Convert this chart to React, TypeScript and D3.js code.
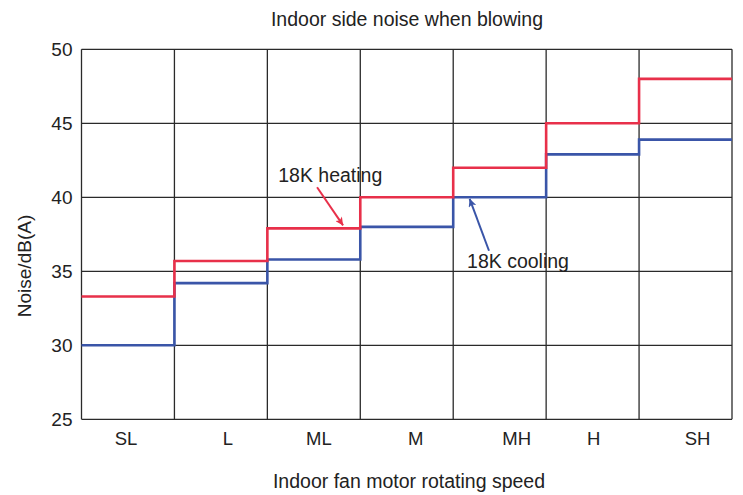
import * as d3 from 'd3';
import React, { useRef, useEffect } from 'react';

const categories = ['SL', 'L', 'ML', 'M', 'MH', 'H', 'SH'];
const heating = [33.3, 35.7, 37.9, 40.0, 42.0, 45.0, 48.0];
const cooling = [30.0, 34.2, 35.8, 38.0, 40.0, 42.9, 43.9];
const yTicks = [25, 30, 35, 40, 45, 50];

// annotations, in (category index, dB) units
const notes = [
  { label: '18K heating', color: '#e8304a', text: [2.117, 41.02], from: [2.535, 40.68], to: [2.815, 38.1] },
  { label: '18K cooling', color: '#3a55a8', text: [4.149, 35.2], from: [4.385, 36.39], to: [4.177, 39.9] },
];

// small horizontal nudges for the category labels, as placed in the original
const labelNudge = [-2, 7, 5, 9, 17, 1, 12];

const W = 743;
const H = 495;
const margin = { top: 49.3, right: 11, bottom: 75.7, left: 81.5 };
const font = '"Liberation Sans", Arial, Helvetica, sans-serif';
const textColor = '#222';

function StepChart() {
  const ref = useRef<SVGSVGElement>(null);

  useEffect(() => {
    const svg = d3.select(ref.current);
    svg.selectAll('*').remove();

    const x0 = margin.left;
    const x1 = W - margin.right;
    const y0 = H - margin.bottom;
    const y1 = margin.top;

    const x = d3.scaleBand().domain(categories).range([x0, x1]);
    const xi = d3.scaleLinear().domain([0, categories.length]).range([x0, x1]);
    const y = d3.scaleLinear().domain([25, 50]).range([y0, y1]);

    // grid
    const grid = svg.append('g');
    grid
      .selectAll('line.h')
      .data(yTicks)
      .enter()
      .append('line')
      .attr('x1', x0)
      .attr('x2', x1)
      .attr('y1', (d) => y(d))
      .attr('y2', (d) => y(d))
      .attr('stroke', '#2a2a2a')
      .attr('stroke-width', 1.3);

    grid
      .selectAll('line.v')
      .data(d3.range(categories.length + 1))
      .enter()
      .append('line')
      .attr('x1', (d) => xi(d))
      .attr('x2', (d) => xi(d))
      .attr('y1', y0)
      .attr('y2', y1)
      .attr('stroke', '#2a2a2a')
      .attr('stroke-width', 1.3);

    // y tick labels
    svg
      .append('g')
      .selectAll('text')
      .data(yTicks)
      .enter()
      .append('text')
      .attr('x', x0 - 9)
      .attr('y', (d) => y(d))
      .attr('dy', '0.36em')
      .attr('text-anchor', 'end')
      .style('font-family', font)
      .style('font-size', '19px')
      .style('fill', textColor)
      .text((d) => d);

    // category labels
    svg
      .append('g')
      .selectAll('text')
      .data(categories)
      .enter()
      .append('text')
      .attr('x', (d, i) => (x(d) as number) + x.bandwidth() / 2 + labelNudge[i])
      .attr('y', y0 + 26)
      .attr('text-anchor', 'middle')
      .style('font-family', font)
      .style('font-size', '18.5px')
      .style('fill', textColor)
      .text((d) => d);

    // step lines
    const line = d3
      .line<[number, number]>()
      .x((d) => d[0])
      .y((d) => y(d[1]))
      .curve(d3.curveStepAfter);

    const series = [
      { values: cooling, color: '#3a55a8' },
      { values: heating, color: '#e8304a' },
    ];

    series.forEach((s) => {
      const pts: [number, number][] = categories.map((c, i) => [x(c) as number, s.values[i]]);
      pts.push([x1, s.values[s.values.length - 1]]);
      svg
        .append('path')
        .attr('d', line(pts))
        .attr('fill', 'none')
        .attr('stroke', s.color)
        .attr('stroke-width', 2.6);
    });

    // arrow markers
    const defs = svg.append('defs');
    notes.forEach((n, i) => {
      defs
        .append('marker')
        .attr('id', `arrow${i}`)
        .attr('viewBox', '0 0 10 10')
        .attr('refX', 10)
        .attr('refY', 5)
        .attr('markerWidth', 12)
        .attr('markerHeight', 8)
        .attr('markerUnits', 'userSpaceOnUse')
        .attr('orient', 'auto')
        .append('path')
        .attr('d', 'M0,0 L10,5 L0,10 L2.5,5 Z')
        .attr('fill', n.color);

      svg
        .append('line')
        .attr('x1', xi(n.from[0]))
        .attr('y1', y(n.from[1]))
        .attr('x2', xi(n.to[0]))
        .attr('y2', y(n.to[1]))
        .attr('stroke', n.color)
        .attr('stroke-width', 2)
        .attr('marker-end', `url(#arrow${i})`);

      svg
        .append('text')
        .attr('x', xi(n.text[0]))
        .attr('y', y(n.text[1]))
        .style('font-family', font)
        .style('font-size', '19.5px')
        .style('fill', textColor)
        .text(n.label);
    });

    // titles
    svg
      .append('text')
      .attr('x', 407)
      .attr('y', 25.5)
      .attr('text-anchor', 'middle')
      .style('font-family', font)
      .style('font-size', '19.5px')
      .style('fill', textColor)
      .text('Indoor side noise when blowing');

    svg
      .append('text')
      .attr('x', 409)
      .attr('y', 488)
      .attr('text-anchor', 'middle')
      .style('font-family', font)
      .style('font-size', '19.5px')
      .style('fill', textColor)
      .text('Indoor fan motor rotating speed');

    svg
      .append('text')
      .attr('transform', 'translate(31, 266) rotate(-90)')
      .attr('text-anchor', 'middle')
      .style('font-family', font)
      .style('font-size', '19px')
      .style('fill', textColor)
      .text('Noise/dB(A)');
  }, []);

  return (
    <svg
      ref={ref}
      width={W}
      height={H}
      style={{ position: 'absolute', left: 0, top: 0, background: '#fff' }}
    />
  );
}

export default function App() {
  return <StepChart />;
}
